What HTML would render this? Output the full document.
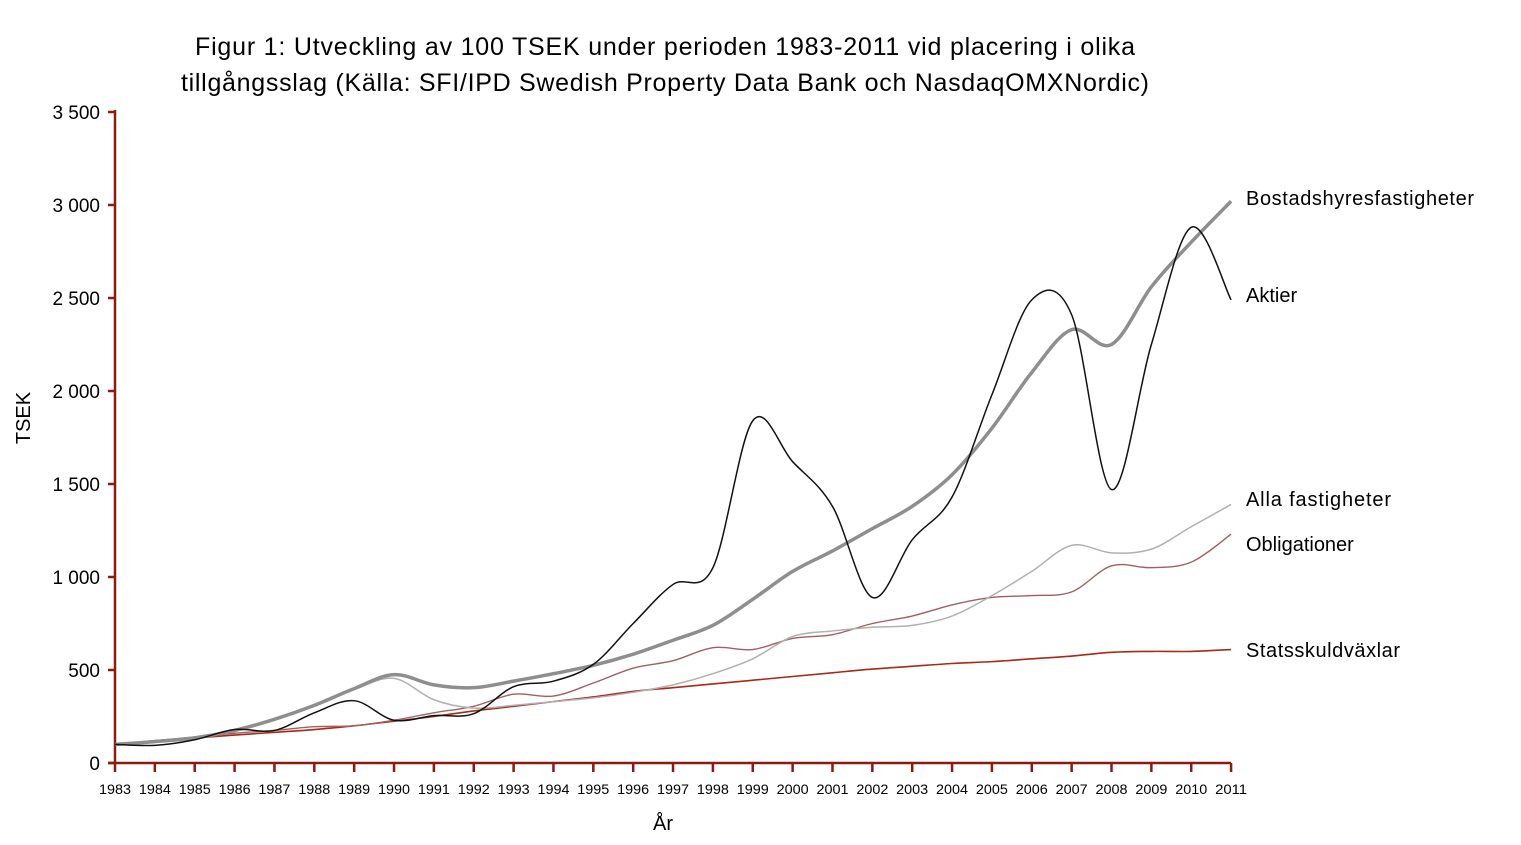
<!DOCTYPE html><html><head><meta charset="utf-8"><style>
body{margin:0;background:#fff;width:1521px;height:840px;overflow:hidden;font-family:"Liberation Sans",sans-serif}
</style></head><body>
<svg id="s" width="1521" height="840" xmlns="http://www.w3.org/2000/svg" font-family="Liberation Sans, sans-serif">
<text x="665" y="55" font-size="25" text-anchor="middle" textLength="940">Figur 1: Utveckling av 100 TSEK under perioden 1983-2011 vid placering i olika</text>
<text x="665" y="91" font-size="25" text-anchor="middle" textLength="968">tillgångsslag (Källa: SFI/IPD Swedish Property Data Bank och NasdaqOMXNordic)</text>
<text x="30" y="418" font-size="20" text-anchor="middle" transform="rotate(-90 30 418)">TSEK</text>
<text x="663" y="830" font-size="20" text-anchor="middle">År</text>
<g id="ax"></g><g id="ln" fill="none"></g>
<g font-size="20">
<text x="1246" y="205" textLength="228">Bostadshyresfastigheter</text>
<text x="1246" y="302">Aktier</text>
<text x="1246" y="506" textLength="145">Alla fastigheter</text>
<text x="1246" y="551">Obligationer</text>
<text x="1246" y="657" textLength="154">Statsskuldväxlar</text>
</g>
</svg>
<script>
const X=y=>115+(y-1983)*39.86, Y=v=>763-v*0.186;
let ax='';const red='#8b1a10';
ax+=`<line x1="115" y1="110" x2="115" y2="763" stroke="${red}" stroke-width="2.5"/>`;
ax+=`<line x1="108" y1="763" x2="1231" y2="763" stroke="${red}" stroke-width="2.5"/>`;
for(let v=0;v<=3500;v+=500){const y=Y(v);ax+=`<line x1="108" y1="${y}" x2="115" y2="${y}" stroke="${red}" stroke-width="2.5"/>`;
let t=v==0?'0':v<1000?v:(Math.floor(v/1000)+' '+String(v%1000).padStart(3,'0'));
ax+=`<text x="100" y="${y+7}" font-size="19" text-anchor="end">${t}</text>`;}
for(let yr=1983;yr<=2011;yr++){const x=X(yr);ax+=`<line x1="${x}" y1="763" x2="${x}" y2="772" stroke="${red}" stroke-width="2.5"/>`;
ax+=`<text x="${x}" y="794" font-size="14" text-anchor="middle" textLength="32" lengthAdjust="spacingAndGlyphs">${yr}</text>`;}
document.getElementById('ax').innerHTML=ax;
function path(vals){const p=vals.map((v,i)=>[X(1983+i),Y(v)]);let d=`M${p[0][0]},${p[0][1]}`;
for(let i=0;i<p.length-1;i++){const a=p[Math.max(0,i-1)],b=p[i],c=p[i+1],e=p[Math.min(p.length-1,i+2)];
d+=` C${b[0]+(c[0]-a[0])/6},${b[1]+(c[1]-a[1])/6} ${c[0]-(e[0]-b[0])/6},${c[1]-(e[1]-b[1])/6} ${c[0]},${c[1]}`;}return d;}
const S=[
['#a8281a',1.6,[100,120,135,150,165,180,200,225,250,280,305,330,355,385,405,425,445,465,485,505,520,535,545,560,575,595,600,600,610]],
['#a06060',1.4,[100,120,140,160,175,195,200,230,270,305,370,360,430,510,550,620,610,670,690,750,790,850,890,900,920,1060,1050,1080,1230]],
['#b0b0b0',1.5,[100,115,135,170,230,305,395,455,340,295,310,330,350,380,420,480,560,680,710,730,740,790,900,1030,1170,1130,1150,1270,1390]],
['#8e8e8e',3.5,[100,115,135,175,235,310,400,475,420,405,440,480,525,585,660,740,880,1030,1140,1260,1380,1550,1800,2100,2330,2250,2560,2800,3020]],
['#111',1.5,[100,95,125,180,175,270,335,230,255,265,410,440,530,750,960,1050,1840,1620,1380,890,1200,1430,1980,2490,2410,1470,2250,2880,2490]]];
document.getElementById('ln').innerHTML=S.map(s=>`<path d="${path(s[2])}" stroke="${s[0]}" stroke-width="${s[1]}"/>`).join('');
</script>
</body></html>
